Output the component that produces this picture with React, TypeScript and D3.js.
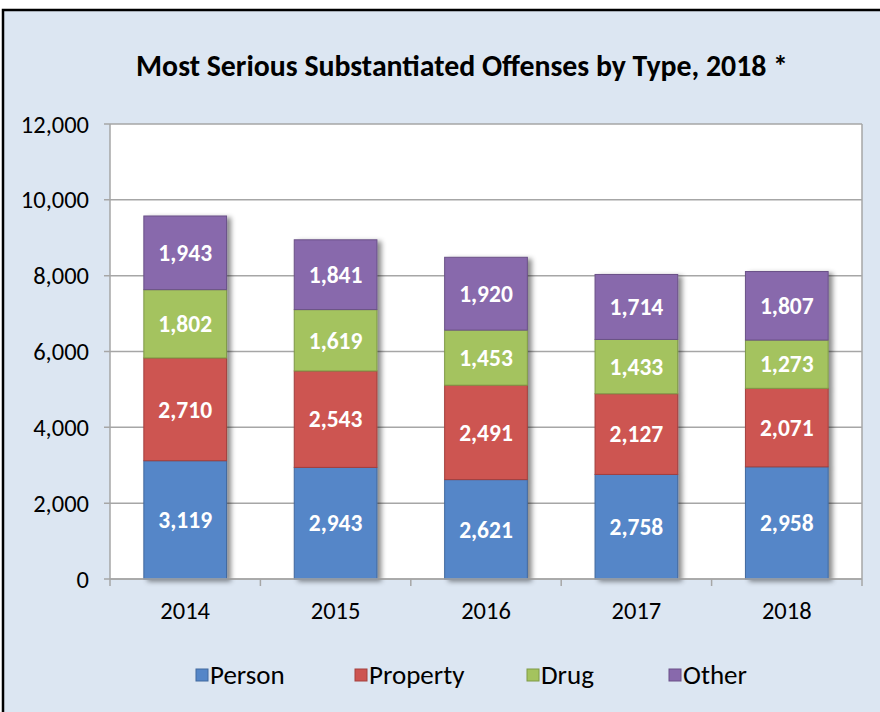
import * as d3 from "d3";

const years = ["2014", "2015", "2016", "2017", "2018"];
const seriesNames = ["Person", "Property", "Drug", "Other"];
const person = [3119, 2943, 2621, 2758, 2958];
const property = [2710, 2543, 2491, 2127, 2071];
const drug = [1802, 1619, 1453, 1433, 1273];
const other = [1943, 1841, 1920, 1714, 1807];
const yTicks = [0, 2000, 4000, 6000, 8000, 10000, 12000];
const colors = ["#5486c8", "#cd5451", "#a4c35e", "#8869ac"];
const strokes = ["#41699e", "#a3403e", "#7f9a47", "#6a5187"];

const W = 880;
const H = 712;
const margin = { top: 124, right: 18, bottom: 133, left: 110 };
const font = "Calibri, Carlito, Lato, 'Open Sans', sans-serif";

export default function App() {
  const rows = years.map((y, i) => ({
    year: y,
    Person: person[i],
    Property: property[i],
    Drug: drug[i],
    Other: other[i],
  }));
  const stacked = d3.stack<any>().keys(seriesNames)(rows);

  const x = d3
    .scaleBand()
    .domain(years)
    .range([margin.left, W - margin.right])
    .paddingInner(0.45)
    .paddingOuter(0.225);
  const outer = d3.scaleBand().domain(years).range([margin.left, W - margin.right]);
  const y = d3
    .scaleLinear()
    .domain([0, 12000])
    .range([H - margin.bottom, margin.top]);
  const fmt = d3.format(",");

  const legendX = [196, 355, 527, 669];

  return (
    <svg
      width={W}
      height={H}
      style={{ position: "absolute", left: 0, top: 0 }}
      fontFamily={font}
    >
      <defs>
        <filter id="shadow" x="-20%" y="-10%" width="150%" height="130%">
          <feDropShadow dx="4" dy="2" stdDeviation="2.5" floodColor="#000" floodOpacity="0.45" />
        </filter>
      </defs>
      <rect x={0} y={0} width={W} height={H} fill="#fff" />
      <rect x={3} y={10} width={W + 20} height={H + 20} fill="#dce6f2" stroke="#000" strokeWidth={2.5} />

      <text x={462} y={66} dy="0.35em" textAnchor="middle" fontSize={29.8} fontWeight="bold" fill="#000">
        Most Serious Substantiated Offenses by Type, 2018 *
      </text>

      {/* plot area */}
      <rect
        x={margin.left}
        y={margin.top}
        width={W - margin.left - margin.right}
        height={H - margin.top - margin.bottom}
        fill="#fff"
      />
      {yTicks.map((t) => (
        <g key={t}>
          <line
            x1={margin.left - 6}
            x2={W - margin.right}
            y1={y(t)}
            y2={y(t)}
            stroke="#a6a6a6"
            strokeWidth={1.5}
          />
          <text x={89} y={y(t)} dy="0.35em" textAnchor="end" fontSize={24.5} fill="#000">
            {fmt(t)}
          </text>
        </g>
      ))}
      <line x1={margin.left} x2={margin.left} y1={margin.top} y2={H - margin.bottom} stroke="#a6a6a6" strokeWidth={1.5} />
      <line x1={W - margin.right} x2={W - margin.right} y1={margin.top} y2={H - margin.bottom} stroke="#a6a6a6" strokeWidth={1.5} />

      {/* bars */}
      <g filter="url(#shadow)">
        {stacked.map((s, si) =>
          s.map((d, i) => (
            <rect
              key={`${si}-${i}`}
              x={x(years[i])!}
              y={y(d[1])}
              width={x.bandwidth()}
              height={y(d[0]) - y(d[1])}
              fill={colors[si]}
              stroke={strokes[si]}
              strokeWidth={1}
            />
          ))
        )}
      </g>
      {stacked.map((s, si) =>
        s.map((d, i) => (
          <text
            key={`l-${si}-${i}`}
            x={x(years[i])! + x.bandwidth() / 2}
            y={(y(d[0]) + y(d[1])) / 2}
            dy="0.35em"
            textAnchor="middle"
            fontSize={23.5}
            fontWeight="bold"
            fill="#fff"
          >
            {fmt(d[1] - d[0])}
          </text>
        ))
      )}

      {/* x axis */}
      <line x1={margin.left} x2={W - margin.right} y1={y(0)} y2={y(0)} stroke="#a6a6a6" strokeWidth={1.5} />
      {years.map((yr) => (
        <line
          key={`t-${yr}`}
          x1={outer(yr)!}
          x2={outer(yr)!}
          y1={y(0)}
          y2={y(0) + 7}
          stroke="#a6a6a6"
          strokeWidth={1.5}
        />
      ))}
      <line x1={W - margin.right} x2={W - margin.right} y1={y(0)} y2={y(0) + 7} stroke="#a6a6a6" strokeWidth={1.5} />
      {years.map((yr) => (
        <text
          key={`x-${yr}`}
          x={x(yr)! + x.bandwidth() / 2}
          y={610}
          dy="0.35em"
          textAnchor="middle"
          fontSize={24.5}
          fill="#000"
        >
          {yr}
        </text>
      ))}

      {/* legend */}
      {seriesNames.map((n, i) => (
        <g key={n} transform={`translate(${legendX[i]},675)`}>
          <rect x={0} y={-6} width={12} height={12} fill={colors[i]} stroke={strokes[i]} strokeWidth={1} />
          <text x={14} y={0} dy="0.35em" fontSize={27} fill="#000">
            {n}
          </text>
        </g>
      ))}
    </svg>
  );
}
